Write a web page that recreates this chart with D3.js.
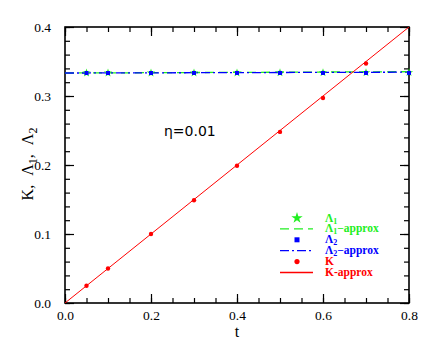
<!DOCTYPE html>
<html>
<head>
<meta charset="utf-8">
<script src="https://cdn.jsdelivr.net/npm/d3@7"></script>
<style>
  body { margin: 0; background: #fff; }
</style>
</head>
<body>
<div id="chart"></div>
<script>
var tK = [0.05, 0.1, 0.2, 0.3, 0.4, 0.5, 0.6, 0.7];
var kVals = [0.025, 0.05, 0.1, 0.149, 0.199, 0.248, 0.297, 0.347];
var tLam = [0.05, 0.1, 0.2, 0.3, 0.4, 0.5, 0.6, 0.7, 0.8];
var lam1Vals = [0.3334, 0.3334, 0.3334, 0.3335, 0.3336, 0.3337, 0.3338, 0.3339, 0.3340];
var lam2Vals = [0.3333, 0.3333, 0.3333, 0.3334, 0.3334, 0.3334, 0.3334, 0.3334, 0.3335];
var tApprox = [0, 0.8];
var kApprox = [0, 0.4];
var lam1Approx = [0.3333, 0.3352];
var lam2Approx = [0.3333, 0.3345];
var xTicks = [0, 0.2, 0.4, 0.6, 0.8];
var yTicks = [0, 0.1, 0.2, 0.3, 0.4];

var margin = {top: 27, right: 27, bottom: 53, left: 65},
    w = 436 - margin.left - margin.right,
    h = 356 - margin.top - margin.bottom;

var serif = "'Liberation Serif', 'Times New Roman', serif";
var green = "#22ee22", blue = "#0000ff", red = "#ff0000";

var x = d3.scaleLinear().domain([0, 0.8]).range([0, w]),
    y = d3.scaleLinear().domain([0, 0.4]).range([h, 0]);

var svg = d3.select("#chart").append("svg")
    .attr("width", 436)
    .attr("height", 356)
    .append("g")
    .attr("transform", "translate(" + margin.left + "," + margin.top + ")");

svg.append("defs").append("clipPath").attr("id", "clip")
    .append("rect").attr("width", w).attr("height", h);

// minor ticks
var xMinor = d3.range(0, 0.8001, 0.05), yMinor = d3.range(0, 0.4001, 0.02);
svg.append("g").call(d3.axisBottom(x).tickValues(xMinor).tickSize(-5).tickFormat(""))
   .attr("transform", "translate(0," + h + ")");
svg.append("g").call(d3.axisTop(x).tickValues(xMinor).tickSize(-5).tickFormat(""));
svg.append("g").call(d3.axisLeft(y).tickValues(yMinor).tickSize(-5).tickFormat(""));
svg.append("g").call(d3.axisRight(y).tickValues(yMinor).tickSize(-5).tickFormat(""))
   .attr("transform", "translate(" + w + ",0)");

// major ticks
var xAxisG = svg.append("g")
   .attr("transform", "translate(0," + h + ")")
   .call(d3.axisBottom(x).tickValues(xTicks).tickSize(-9).tickPadding(11).tickFormat(d3.format(".1f")));
svg.append("g").call(d3.axisTop(x).tickValues(xTicks).tickSize(-9).tickFormat(""));
var yAxisG = svg.append("g")
   .call(d3.axisLeft(y).tickValues(yTicks).tickSize(-9).tickPadding(14).tickFormat(d3.format(".1f")));
svg.append("g").call(d3.axisRight(y).tickValues(yTicks).tickSize(-9).tickFormat(""))
   .attr("transform", "translate(" + w + ",0)");

svg.selectAll(".domain").remove();
svg.selectAll(".tick line").attr("stroke", "#000").attr("stroke-width", 1.2);
xAxisG.selectAll(".tick text").attr("dy", "0.45em");
svg.selectAll(".tick text")
   .attr("font-family", serif).attr("font-size", 13.5).attr("fill", "#000")
   .style("font-family", serif).style("font-size", "13.5px");

svg.append("rect").attr("width", w).attr("height", h)
   .attr("fill", "none").attr("stroke", "#000").attr("stroke-width", 1.6);

var line = d3.line().x(function(d) { return x(d[0]); }).y(function(d) { return y(d[1]); });
var plot = svg.append("g").attr("clip-path", "url(#clip)");

plot.append("path").datum(d3.zip(tApprox, lam1Approx)).attr("d", line)
    .attr("fill", "none").attr("stroke", green).attr("stroke-width", 1.3).attr("stroke-dasharray", "9,5");
plot.append("path").datum(d3.zip(tApprox, lam2Approx)).attr("d", line)
    .attr("fill", "none").attr("stroke", blue).attr("stroke-width", 1.3).attr("stroke-dasharray", "9,3,2,3");
plot.append("path").datum(d3.zip(tApprox, kApprox)).attr("d", line)
    .attr("fill", "none").attr("stroke", red).attr("stroke-width", 1);

var star = d3.symbol().type(d3.symbolStar).size(22);
svg.selectAll(".lam1").data(d3.zip(tLam, lam1Vals)).enter().append("path")
   .attr("transform", function(d) { return "translate(" + x(d[0]) + "," + y(d[1]) + ")"; })
   .attr("d", star).attr("fill", green);
svg.selectAll(".lam2").data(d3.zip(tLam, lam2Vals)).enter().append("rect")
   .attr("x", function(d) { return x(d[0]) - 2; })
   .attr("y", function(d) { return y(d[1]) - 2; })
   .attr("width", 4).attr("height", 4).attr("fill", blue);
svg.selectAll(".k").data(d3.zip(tK, kVals)).enter().append("circle")
   .attr("cx", function(d) { return x(d[0]); })
   .attr("cy", function(d) { return y(d[1]); })
   .attr("r", 2.2).attr("fill", red);

// axis titles
svg.append("text")
   .attr("x", w / 2).attr("y", h + 34)
   .attr("text-anchor", "middle")
   .style("font-family", serif).style("font-size", "16px")
   .text("t");

var yl = svg.append("text")
   .attr("transform", "translate(" + (-32) + "," + (h / 2 - 1) + ") rotate(-90)")
   .attr("text-anchor", "middle")
   .style("font-family", serif).style("font-size", "16px");
yl.append("tspan").text("K,");
yl.append("tspan").text("Λ").attr("dx", 9);
yl.append("tspan").text("1").attr("dy", 4).style("font-size", "12px");
yl.append("tspan").text(",").attr("dy", -4);
yl.append("tspan").text("Λ").attr("dx", 9);
yl.append("tspan").text("2").attr("dy", 4).style("font-size", "12px");

svg.append("text")
   .attr("x", 99).attr("y", 109)
   .style("font-family", "'DejaVu Sans', sans-serif").style("font-size", "14px")
   .text("η=0.01");

// legend
var leg = svg.append("g").attr("transform", "translate(215,191)");
var legItems = [
  {label: "Λ", sub: "1", extra: "", color: green, kind: "star"},
  {label: "Λ", sub: "1", extra: "−approx", color: green, kind: "dash"},
  {label: "Λ", sub: "2", extra: "", color: blue, kind: "square"},
  {label: "Λ", sub: "2", extra: "−approx", color: blue, kind: "dashdot"},
  {label: "K", sub: "", extra: "", color: red, kind: "dot"},
  {label: "K-approx", sub: "", extra: "", color: red, kind: "solid"}
];
legItems.forEach(function(it, i) {
  var yy = i * 10.9;
  var g = leg.append("g").attr("transform", "translate(0," + yy + ")");
  if (it.kind === "star") g.append("path").attr("d", d3.symbol().type(d3.symbolStar).size(40)).attr("transform", "translate(17,0)").attr("fill", it.color);
  if (it.kind === "square") g.append("rect").attr("x", 14.5).attr("y", -2.5).attr("width", 5).attr("height", 5).attr("fill", it.color);
  if (it.kind === "dot") g.append("circle").attr("cx", 17).attr("r", 2.6).attr("fill", it.color);
  if (it.kind === "dash") g.append("line").attr("x1", 0).attr("x2", 33).attr("stroke", it.color).attr("stroke-width", 1.3).attr("stroke-dasharray", "9,5");
  if (it.kind === "dashdot") g.append("line").attr("x1", 0).attr("x2", 33).attr("stroke", it.color).attr("stroke-width", 1.3).attr("stroke-dasharray", "9,3,2,3");
  if (it.kind === "solid") g.append("line").attr("x1", 0).attr("x2", 33).attr("stroke", it.color).attr("stroke-width", 1.3);
  var t = g.append("text").attr("x", 45).attr("y", 3.5)
    .style("font-family", serif).style("font-size", "11.5px").style("font-weight", "bold")
    .attr("fill", it.color);
  t.append("tspan").text(it.label);
  if (it.sub) {
    t.append("tspan").text(it.sub).attr("dy", 2).style("font-size", "8px");
    if (it.extra) t.append("tspan").text(it.extra).attr("dy", -2);
  }
});
</script>
</body>
</html>
